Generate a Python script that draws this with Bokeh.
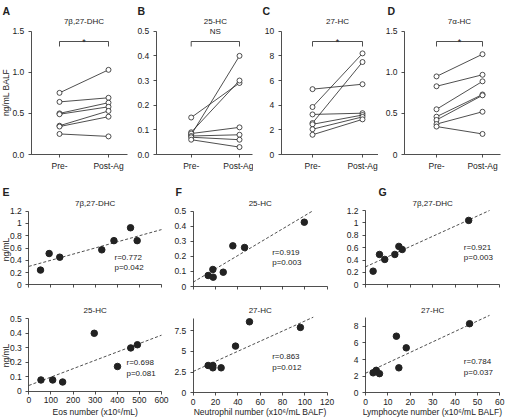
import math
from bokeh.plotting import figure
from bokeh.models import Range1d, FixedTicker, Label
from bokeh.layouts import row, column
from bokeh.embed import file_html
from bokeh.resources import INLINE

# ---------------- data ----------------
groups = ["Pre-", "Post-Ag"]

A_title = "7β,27-DHC"
A_pre = [0.75, 0.64, 0.50, 0.49, 0.35, 0.34, 0.25]
A_post = [1.03, 0.69, 0.63, 0.58, 0.53, 0.46, 0.22]
A_ticks = [0, 0.5, 1.0, 1.5]
A_tlabels = ["0.0", "0.5", "1.0", "1.5"]

B_title = "25-HC"
B_pre = [0.15, 0.08, 0.09, 0.085, 0.075, 0.07, 0.06]
B_post = [0.29, 0.40, 0.30, 0.11, 0.08, 0.06, 0.03]
B_ticks = [0, 0.1, 0.2, 0.3, 0.4, 0.5]
B_tlabels = ["0.0", "0.1", "0.2", "0.3", "0.4", "0.5"]

C_title = "27-HC"
C_pre = [5.3, 3.85, 2.55, 3.25, 2.45, 2.05, 1.6]
C_post = [5.7, 8.2, 7.5, 3.35, 3.2, 3.05, 2.85]
C_ticks = [0, 2, 4, 6, 8, 10]
C_tlabels = ["0", "2", "4", "6", "8", "10"]

D_title = "7α-HC"
D_pre = [0.95, 0.83, 0.55, 0.46, 0.42, 0.37, 0.34]
D_post = [1.22, 0.97, 0.89, 0.73, 0.72, 0.52, 0.25]
D_ticks = [0, 0.5, 1.0, 1.5]
D_tlabels = ["0", "0.5", "1.0", "1.5"]

sig = ["*", "NS", "*", "*"]

# scatter panels
E1_title = "7β,27-DHC"
E1_x = [53, 92, 140, 330, 385, 460, 490]
E1_y = [0.24, 0.51, 0.45, 0.57, 0.72, 0.93, 0.72]
E1_fit_x = [0, 600]
E1_fit_y = [0.30, 0.90]
E1_stat = ["r=0.772", "p=0.042"]

E2_title = "25-HC"
E2_x = [55, 108, 153, 296, 401, 461, 491]
E2_y = [0.076, 0.076, 0.062, 0.398, 0.169, 0.297, 0.319]
E2_fit_x = [0, 600]
E2_fit_y = [0.038, 0.385]
E2_stat = ["r=0.698", "p=0.081"]

F1_title = "25-HC"
F1_x = [13.4, 17.6, 17.9, 26.9, 35.5, 46.0, 99.5]
F1_y = [0.073, 0.113, 0.062, 0.095, 0.270, 0.259, 0.427]
F1_fit_x = [0, 107.5]
F1_fit_y = [0.029, 0.504]
F1_stat = ["r=0.919", "p=0.003"]

F2_title = "27-HC"
F2_x = [13.4, 17.6, 17.6, 25.0, 37.9, 50.4, 96.0]
F2_y = [3.29, 3.29, 3.01, 3.01, 5.62, 8.55, 7.87]
F2_fit_x = [0, 107.5]
F2_fit_y = [2.57, 9.1]
F2_stat = ["r=0.863", "p=0.012"]

G1_title = "7β,27-DHC"
G1_x = [3.4, 6.25, 8.6, 13.1, 14.9, 16.4, 46.1]
G1_y = [0.22, 0.49, 0.41, 0.49, 0.62, 0.57, 1.04]
G1_fit_x = [0, 55.4]
G1_fit_y = [0.29, 1.2]
G1_stat = ["r=0.921", "p=0.003"]

G2_title = "27-HC"
G2_x = [3.4, 4.8, 6.25, 13.8, 14.9, 18.2, 46.5]
G2_y = [2.4, 2.7, 2.3, 6.8, 3.0, 5.4, 8.3]
G2_fit_x = [0, 55.4]
G2_fit_y = [2.35, 9.3]
G2_stat = ["r=0.784", "p=0.037"]

E_xticks = [0, 100, 200, 300, 400, 500, 600]
F_xticks = [0, 20, 40, 60, 80, 100, 120]
G_xticks = [0, 10, 20, 30, 40, 50, 60]
up12_ticks = [0, 0.2, 0.4, 0.6, 0.8, 1.0, 1.2]
up12_labels = ["0", "0.2", "0.4", "0.6", "0.8", "1", "1.2"]
up05_ticks = [0, 0.1, 0.2, 0.3, 0.4, 0.5]
up05_labels = ["0", "0.1", "0.2", "0.3", "0.4", "0.5"]
F2_ticks = [0, 2.5, 5, 7.5]
F2_labels = ["0", "2.5", "5", "7.5"]
G2_ticks = [0, 2, 4, 6, 8]
G2_labels = ["0", "2", "4", "6", "8"]

E_xlabel = "Eos number (x10⁶/mL)"
F_xlabel = "Neutrophil number (x10⁶/mL BALF)"
G_xlabel = "Lymphocyte number (x10⁶/mL BALF)"

# ---------------- styling ----------------
FONT = "Liberation Sans"
INK = "#222222"
FS = "8.5px"


class Panel:
    """Figure whose frame fills the whole canvas; page pixel <-> data mapping."""

    def __init__(self, left, top, w, h, xa, xb, ya, yb):
        self.xa, self.ya = xa, ya
        self.sx = (xb[1] - xa[1]) / (xb[0] - xa[0])
        self.sy = (yb[1] - ya[1]) / (yb[0] - ya[0])
        self.p = figure(
            width=w, height=h, min_border=0,
            min_border_left=0, min_border_right=0,
            min_border_top=0, min_border_bottom=0,
            x_range=Range1d(self.X(left), self.X(left + w)),
            y_range=Range1d(self.Y(top + h), self.Y(top)),
            output_backend="svg", toolbar_location=None,
        )
        p = self.p
        p.outline_line_color = None
        p.xgrid.visible = False
        p.ygrid.visible = False
        for ax in (p.xaxis[0], p.yaxis[0]):
            ax.axis_line_color = INK
            ax.axis_line_width = 0.8
            ax.major_tick_line_color = INK
            ax.major_tick_line_width = 0.8
            ax.major_tick_in = 0
            ax.major_tick_out = 3
            ax.minor_tick_line_color = None
            ax.major_label_text_font = FONT
            ax.major_label_text_font_size = FS
            ax.major_label_text_color = INK
            ax.major_label_standoff = 3

    def X(self, px):
        return self.xa[1] + (px - self.xa[0]) * self.sx

    def Y(self, py):
        return self.ya[1] + (py - self.ya[0]) * self.sy

    def yaxis(self, ticks, labels, bounds, at_x, standoff=4):
        ax = self.p.yaxis[0]
        ax.ticker = FixedTicker(ticks=ticks)
        ax.major_label_overrides = dict(zip(ticks, labels))
        ax.bounds = bounds
        ax.fixed_location = at_x
        ax.major_label_standoff = standoff

    def xaxis(self, ticks, labels, bounds, show=True, standoff=3):
        ax = self.p.xaxis[0]
        ax.ticker = FixedTicker(ticks=ticks)
        ax.major_label_overrides = dict(zip(ticks, labels))
        ax.bounds = bounds
        ax.fixed_location = 0
        ax.major_label_standoff = standoff
        if not show:
            ax.major_label_text_color = None

    def label(self, px, py, text, size=FS, align="center", baseline="middle",
              bold=False, angle=0.0):
        self.p.add_layout(Label(
            x=self.X(px), y=self.Y(py), text=text, text_font=FONT,
            text_font_size=size, text_align=align, text_baseline=baseline,
            text_color=INK, text_font_style="bold" if bold else "normal",
            angle=angle))


# ---------------- top row: paired pre/post panels ----------------
TOP_H = 176
top_specs = [
    # fig left, width, y-axis px, x-axis end px, pre px, post px, letter px
    (0, 128, 30.7, 127, 59.0, 108.0, 2, "A", A_title, A_pre, A_post, A_ticks, A_tlabels),
    (128, 125, 155.7, 252, 190.7, 239.0, 137, "B", B_title, B_pre, B_post, B_ticks, B_tlabels),
    (253, 125, 280.7, 378, 312.0, 362.0, 262, "C", C_title, C_pre, C_post, C_ticks, C_tlabels),
    (378, 127, 404.0, 500, 436.0, 482.0, 387, "D", D_title, D_pre, D_post, D_ticks, D_tlabels),
]
top_figs = []
for i, (left, w, axis_px, xend_px, pre_px, post_px, let_px, letter, title, pre, post,
        ticks, tlabels) in enumerate(top_specs):
    P = Panel(left, 0, w, TOP_H, (pre_px, 0), (post_px, 1), (154, 0), (30.7, ticks[-1]))
    p = P.p
    P.yaxis(ticks, tlabels, (0, ticks[-1]), P.X(axis_px))
    P.xaxis([0, 1], groups, (P.X(axis_px), P.X(xend_px)))
    xs = [[0, 1] for _ in pre]
    ys = [[a, b] for a, b in zip(pre, post)]
    p.multi_line(xs, ys, line_color=INK, line_width=0.8)
    p.scatter([0] * len(pre), pre, size=5, fill_color="white",
              line_color=INK, line_width=0.8)
    p.scatter([1] * len(post), post, size=5, fill_color="white",
              line_color=INK, line_width=0.8)
    # significance bracket
    yb0, yb1 = P.Y(46), P.Y(41)
    p.line([0, 0, 1, 1], [yb0, yb1, yb1, yb0], line_color=INK, line_width=0.8)
    mid = (pre_px + post_px) / 2
    if sig[i] == "*":
        P.label(mid, 41.5, "*", size="9px", baseline="alphabetic")
    else:
        P.label(mid, 31, sig[i], size="8px")
    P.label(mid, 21, title, size="8px")
    P.label(let_px, 4, letter, size="10.5px", align="left", baseline="top", bold=True)
    if i == 0:
        P.label(5.5, 92, "ng/mL BALF", size=FS, angle=math.pi / 2)
    top_figs.append(p)

# ---------------- bottom: scatter panels ----------------
UP_TOP, UP_H = 176, 119
LO_TOP, LO_H = 295, 123


def scatter_panel(left, top, w, h, xa, xb, ya, yb, xs, ys, fx, fy,
                  stat, stat_px, stat_py, title, title_py, xticks, show_x,
                  yticks, ylabels, ybound):
    P = Panel(left, top, w, h, xa, xb, ya, yb)
    p = P.p
    P.yaxis(yticks, ylabels, (0, ybound), 0)
    P.xaxis(xticks, [str(t) for t in xticks], (xticks[0], xticks[-1]),
            show=show_x, standoff=3)
    p.line(fx, fy, line_color=INK, line_width=0.8, line_dash="3 2")
    p.scatter(xs, ys, size=6.5, color=INK)
    P.label((xa[0] + xb[0]) / 2, title_py, title, size="8px")
    P.label(stat_px, stat_py[0], stat[0], size="8px", align="left")
    P.label(stat_px, stat_py[1], stat[1], size="8px", align="left")
    return P


# E column
E1 = scatter_panel(0, UP_TOP, 170, UP_H, (28.3, 0), (161, 600), (284.3, 0), (210.7, 1.2),
                   E1_x, E1_y, E1_fit_x, E1_fit_y, E1_stat, 114, (257.3, 267.3), E1_title, 203,
                   E_xticks, False, up12_ticks, up12_labels, 1.2)
E2 = scatter_panel(0, LO_TOP, 170, LO_H, (28.3, 0), (161, 600), (390.5, 0), (318, 0.5),
                   E2_x, E2_y, E2_fit_x, E2_fit_y, E2_stat, 126, (362, 373), E2_title, 309.5,
                   E_xticks, True, up05_ticks, up05_labels, 0.5)
E1.label(2, 185, "E", size="10.5px", align="left", baseline="top", bold=True)
E1.label(5.5, 249, "ng/mL", angle=math.pi / 2)
E2.label(5.5, 355, "ng/mL", angle=math.pi / 2)
E2.label(94.7, 411, E_xlabel)

# F column
F1 = scatter_panel(170, UP_TOP, 167, UP_H, (192.7, 0), (326.7, 120), (286, 0), (210.7, 0.5),
                   F1_x, F1_y, F1_fit_x, F1_fit_y, F1_stat, 271.7, (252.3, 262.3), F1_title, 203,
                   F_xticks, False, up05_ticks, up05_labels, 0.5)
F2 = scatter_panel(170, LO_TOP, 167, LO_H, (192.7, 0), (326.7, 120), (392.3, 0), (330, 7.5),
                   F2_x, F2_y, F2_fit_x, F2_fit_y, F2_stat, 271.7, (355.7, 366.7), F2_title, 309.5,
                   F_xticks, True, F2_ticks, F2_labels, 9)
F1.label(175, 185, "F", size="10.5px", align="left", baseline="top", bold=True)
F2.label(259.7, 411, F_xlabel)

# G column
G1 = scatter_panel(337, UP_TOP, 168, UP_H, (365, 0), (499.3, 60), (284.3, 0), (210, 1.2),
                   G1_x, G1_y, G1_fit_x, G1_fit_y, G1_stat, 463.3, (247.3, 257.3), G1_title, 203,
                   G_xticks, False, up12_ticks, up12_labels, 1.2)
G2 = scatter_panel(337, LO_TOP, 168, LO_H, (365, 0), (499.3, 60), (392.3, 0), (325.7, 8),
                   G2_x, G2_y, G2_fit_x, G2_fit_y, G2_stat, 463.3, (361, 371.7), G2_title, 309.5,
                   G_xticks, True, G2_ticks, G2_labels, 9)
G1.label(378, 185, "G", size="10.5px", align="left", baseline="top", bold=True)
G2.label(432, 411, G_xlabel)

layout = column(
    row(*top_figs),
    row(column(E1.p, E2.p), column(F1.p, F2.p), column(G1.p, G2.p)),
)

open("out.html", "w").write(file_html(layout, INLINE))
